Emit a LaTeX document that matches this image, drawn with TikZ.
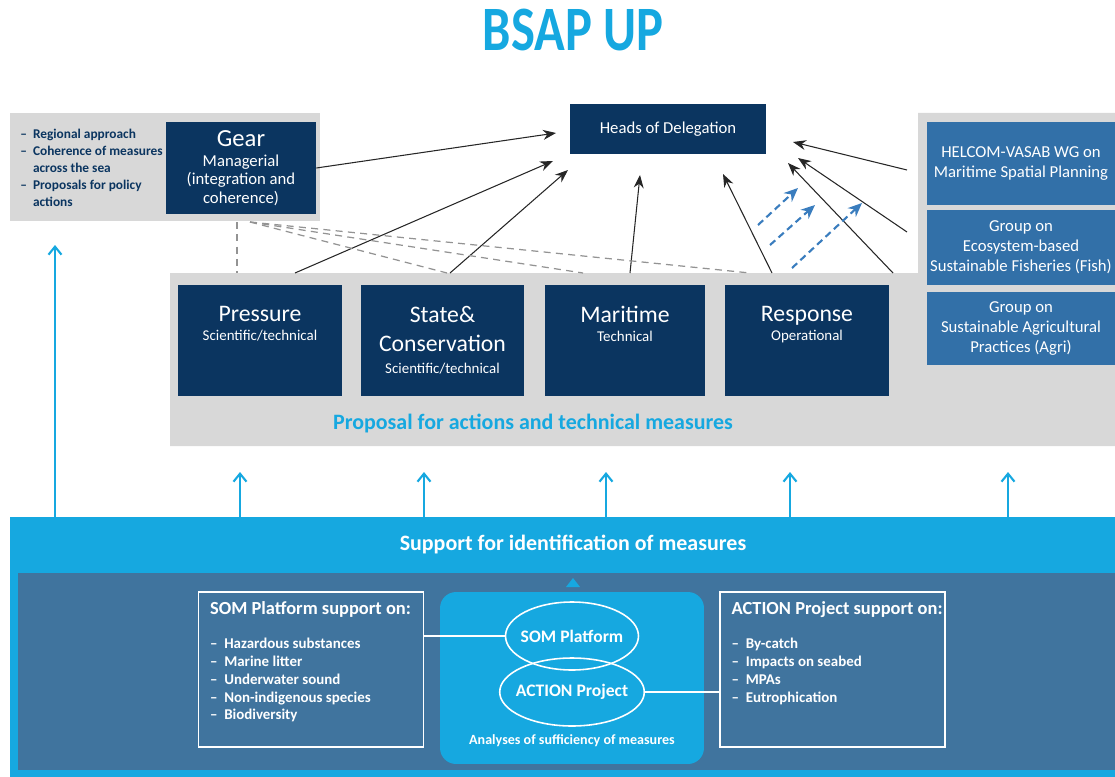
\documentclass[tikz,border=0pt]{standalone}
\usepackage{fontspec}
\setmainfont{Carlito}
\usetikzlibrary{arrows.meta,shapes.geometric,positioning}

\definecolor{navy}{RGB}{11,53,96}
\definecolor{groupblue}{RGB}{50,112,168}
\definecolor{eucyan}{RGB}{22,168,224}
\definecolor{steel}{RGB}{64,116,158}
\definecolor{panelgrey}{RGB}{216,216,216}
\definecolor{dashblue}{RGB}{58,125,190}

\begin{document}
\begin{tikzpicture}[
  x=0.02cm, y=-0.02cm,
  darkbox/.style={rectangle, fill=navy, text=white, inner sep=0pt, align=center},
  wgbox/.style={darkbox, minimum height=2.22cm},
  wglabel/.style={anchor=north, text=white, align=center, inner sep=0pt,
    font=\fontsize{8.5}{10}\selectfont, yshift=-0.42cm},
  groupbox/.style={rectangle, fill=groupblue, text=white, inner sep=0pt, align=center,
    minimum width=3.76cm, font=\fontsize{9.5}{11.4}\selectfont},
  supportbox/.style={rectangle, draw=white, line width=0.9pt, inner sep=0pt,
    minimum width=4.5cm, minimum height=3.1cm},
  supporttext/.style={anchor=north west, text=white, align=left, inner sep=0pt,
    font=\bfseries\fontsize{8.5}{10.2}\selectfont},
  oval/.style={ellipse, draw=white, line width=0.9pt, inner xsep=-0.1cm, inner ysep=0pt,
    text=white, minimum width=2.66cm, minimum height=1.36cm,
    font=\bfseries\fontsize{10}{12}\selectfont},
  toHoD/.style={-{Stealth[length=2.6mm,width=2mm]}, line width=0.6pt, black!85},
  dashup/.style={-{Stealth[length=2.8mm,width=2.4mm]}, dash pattern=on 4pt off 2.5pt,
    line width=1.2pt, dashblue},
  greydash/.style={dash pattern=on 4pt off 3pt, gray!85, line width=0.7pt},
  feed/.style={-{Straight Barb[length=1.6mm,width=2.6mm]}, line width=1.2pt, eucyan}
]
\useasboundingbox (0,0) rectangle (1115,777);

% Title
\node[text=eucyan, font=\bfseries\fontsize{36}{40}\selectfont] (title) at (573,30)
  {\scalebox{0.8}[1]{BSAP UP}};

% Grey panels
\fill[panelgrey] (10,113) rectangle (320,221);
\fill[panelgrey] (170,273) -- (918,273) -- (918,113) -- (1115,113) -- (1115,446)
  -- (170,446) -- cycle;

% Gear and its aims
\node[anchor=north west, text=navy, align=left, inner sep=0pt,
  font=\bfseries\fontsize{7.6}{9.7}\selectfont] (aims) at (20,129)
  {-- \ Regional approach\\-- \ Coherence of measures\\\phantom{-- \ }across the sea\\
   -- \ Proposals for policy\\\phantom{-- \ }actions};
\node[darkbox, minimum width=3cm, minimum height=1.86cm,
  font=\fontsize{9.5}{10.5}\selectfont] (gear) at (241,168)
  {{\fontsize{14}{16}\selectfont Gear}\\[1pt]Managerial\\(integration and\\coherence)};

% Heads of Delegation
\node[darkbox, minimum width=3.94cm, minimum height=1.02cm,
  font=\fontsize{9.5}{11}\selectfont] (hod) at (668,129) {Heads of Delegation};

% Working groups
\node[wgbox, minimum width=3.28cm,
  label={[wglabel]north:{{\fontsize{13.5}{16}\selectfont Pressure}\\[1pt]Scientific/technical}}]
  (pressure) at (260,340.5) {};
\node[wgbox, minimum width=3.26cm,
  label={[wglabel]north:{{\fontsize{13.5}{16}\selectfont State\&}\\[6.5pt]{\fontsize{13.5}{16}\selectfont Conservation}\\[2.5pt]Scientific/technical}}]
  (state) at (442.5,340.5) {};
\node[wgbox, minimum width=3.2cm,
  label={[wglabel]north:{{\fontsize{13.5}{16}\selectfont Maritime}\\[1pt]Technical}}]
  (maritime) at (625,340.5) {};
\node[wgbox, minimum width=3.28cm,
  label={[wglabel]north:{{\fontsize{13.5}{16}\selectfont Response}\\[1pt]Operational}}]
  (response) at (807,340.5) {};

\node[text=eucyan, font=\bfseries\fontsize{12.5}{14}\selectfont] (proposal) at (533,424)
  {Proposal for actions and technical measures};

% Other groups
\node[groupbox, minimum height=1.66cm] (helcom) at (1021,163.5)
  {HELCOM-VASAB WG on\\Maritime Spatial Planning};
\node[groupbox, minimum height=1.5cm] (fish) at (1021,247.5)
  {Group on\\Ecosystem-based\\Sustainable Fisheries (Fish)};
\node[groupbox, minimum height=1.46cm] (agri) at (1021,328.5)
  {Group on\\Sustainable Agricultural\\Practices (Agri)};

% Arrows to Heads of Delegation
\coordinate (p1) at (295,273);  \coordinate (h1) at (553,161);
\coordinate (p2) at (450,273);  \coordinate (h2) at (568,170);
\coordinate (p3) at (630,273);  \coordinate (h3) at (640,175);
\coordinate (p4) at (772,273);  \coordinate (h4) at (723,174);
\coordinate (p5) at (893,273);  \coordinate (h5) at (788,163);
\coordinate (p6) at (907,232);  \coordinate (h6) at (798,158);
\coordinate (p7) at (907,170);  \coordinate (h7) at (793,142);
\coordinate (h0) at (556,133);
\draw[toHoD] (gear.east) -- (h0);
\foreach \i in {1,...,7}
  \draw[toHoD] (p\i) -- (h\i);

% Gear coordination lines
\coordinate (g0) at (237,222);  \coordinate (g1) at (250,222);
\coordinate (s0) at (237,273);
\coordinate (s1) at (447,273);
\coordinate (s2) at (583,273);
\coordinate (s3) at (750,273);
\draw[greydash] (g0) -- (s0);
\foreach \i in {1,2,3}
  \draw[greydash] (g1) -- (s\i);

% Dashed blue arrows
\coordinate (d1) at (758,225);  \coordinate (e1) at (798,188);
\coordinate (d2) at (770,245);  \coordinate (e2) at (815,205);
\coordinate (d3) at (792,268);  \coordinate (e3) at (862,203);
\foreach \i in {1,2,3}
  \draw[dashup] (d\i) -- (e\i);

% Support band
\fill[eucyan] (10,517) rectangle (1115,777);
\fill[steel] (18,573) rectangle (1115,770);
\fill[eucyan] (566,587) -- (580,587) -- (573,578) -- cycle;
\node[text=white, font=\bfseries\fontsize{12.5}{14}\selectfont] (support) at (573,544)
  {Support for identification of measures};

% Feed arrows
\foreach \x [count=\i] in {240,424,606,790,1008} {
  \coordinate (f\i) at (\x,517);
  \coordinate (t\i) at (\x,472);
  \draw[feed] (f\i) -- (t\i);
}
\coordinate (f0) at (55,517);
\coordinate (t0) at (55,245);
\draw[feed] (f0) -- (t0);

% Analyses
\node[rectangle, rounded corners=0.32cm, fill=eucyan, minimum width=5.28cm,
  minimum height=3.44cm] (analyses) at (572,678) {};
\node[oval] (somplat) at (572,636) {SOM Platform};
\node[oval] (actproj) at (572,692) {ACTION Project};
\node[text=white, font=\bfseries\fontsize{8}{10}\selectfont] (sufficiency) at (572,741)
  {Analyses of sufficiency of measures};

\node[supportbox] (somsup) at (311,669.5) {};
\node[supporttext] (somlist) at ([shift={(12,10)}]somsup.north west)
  {{\fontsize{10.5}{12}\selectfont SOM Platform support on:}\\[9pt]
   -- \ Hazardous substances\\-- \ Marine litter\\-- \ Underwater sound\\
   -- \ Non-indigenous species\\-- \ Biodiversity};
\node[supportbox] (actsup) at (832.5,669.5) {};
\node[supporttext] (actlist) at ([shift={(12,10)}]actsup.north west)
  {{\fontsize{10.5}{12}\selectfont ACTION Project support on:}\\[9pt]
   -- \ By-catch\\-- \ Impacts on seabed\\-- \ MPAs\\-- \ Eutrophication};

\draw[white, line width=0.9pt] (somsup.east |- somplat) -- (somplat.west);
\draw[white, line width=0.9pt] (actproj.east) -- (actsup.west |- actproj);

\end{tikzpicture}
\end{document}
